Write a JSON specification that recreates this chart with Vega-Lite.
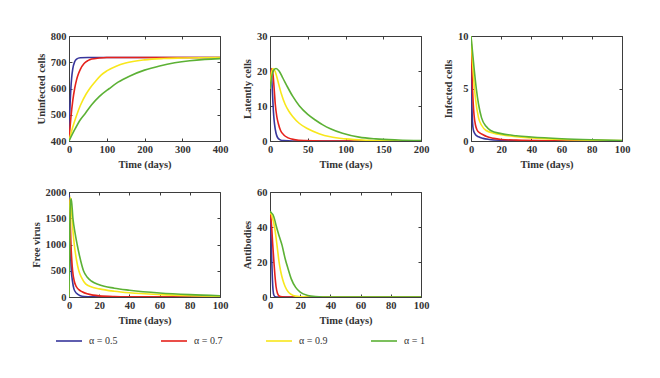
{
  "$schema": "https://vega.github.io/schema/vega-lite/v6.json",
  "padding": {"top": 30, "left": 30, "right": 5, "bottom": 5},
  "background": "white",
  "data": {"values": [
    {"p":"U","a":"0.5","t":0,"v":400},{"p":"U","a":"0.5","t":1,"v":458},{"p":"U","a":"0.5","t":2,"v":505},{"p":"U","a":"0.5","t":3,"v":544},{"p":"U","a":"0.5","t":5,"v":600},{"p":"U","a":"0.5","t":7,"v":640},{"p":"U","a":"0.5","t":10,"v":675},{"p":"U","a":"0.5","t":15,"v":702},{"p":"U","a":"0.5","t":20,"v":712},{"p":"U","a":"0.5","t":30,"v":717},{"p":"U","a":"0.5","t":50,"v":718},{"p":"U","a":"0.5","t":400,"v":718},
    {"p":"U","a":"0.7","t":0,"v":400},{"p":"U","a":"0.7","t":2,"v":439},{"p":"U","a":"0.7","t":5,"v":489},{"p":"U","a":"0.7","t":10,"v":554},{"p":"U","a":"0.7","t":15,"v":600},{"p":"U","a":"0.7","t":20,"v":633},{"p":"U","a":"0.7","t":25,"v":656},{"p":"U","a":"0.7","t":30,"v":673},{"p":"U","a":"0.7","t":40,"v":695},{"p":"U","a":"0.7","t":50,"v":706},{"p":"U","a":"0.7","t":60,"v":712},{"p":"U","a":"0.7","t":80,"v":716},{"p":"U","a":"0.7","t":100,"v":718},{"p":"U","a":"0.7","t":400,"v":718},
    {"p":"U","a":"0.9","t":0,"v":400},{"p":"U","a":"0.9","t":10,"v":453},{"p":"U","a":"0.9","t":20,"v":497},{"p":"U","a":"0.9","t":30,"v":535},{"p":"U","a":"0.9","t":45,"v":578},{"p":"U","a":"0.9","t":55,"v":600},{"p":"U","a":"0.9","t":70,"v":627},{"p":"U","a":"0.9","t":85,"v":651},{"p":"U","a":"0.9","t":100,"v":667},{"p":"U","a":"0.9","t":125,"v":685},{"p":"U","a":"0.9","t":150,"v":697},{"p":"U","a":"0.9","t":200,"v":709},{"p":"U","a":"0.9","t":250,"v":714},{"p":"U","a":"0.9","t":300,"v":716},{"p":"U","a":"0.9","t":400,"v":718},
    {"p":"U","a":"1","t":0,"v":400},{"p":"U","a":"1","t":15,"v":443},{"p":"U","a":"1","t":30,"v":481},{"p":"U","a":"1","t":43,"v":505},{"p":"U","a":"1","t":60,"v":538},{"p":"U","a":"1","t":80,"v":569},{"p":"U","a":"1","t":107,"v":600},{"p":"U","a":"1","t":130,"v":624},{"p":"U","a":"1","t":160,"v":647},{"p":"U","a":"1","t":200,"v":670},{"p":"U","a":"1","t":240,"v":686},{"p":"U","a":"1","t":280,"v":698},{"p":"U","a":"1","t":320,"v":706},{"p":"U","a":"1","t":360,"v":711},{"p":"U","a":"1","t":400,"v":714},

    {"p":"L","a":"0.5","t":0,"v":15},{"p":"L","a":"0.5","t":0.7,"v":19.5},{"p":"L","a":"0.5","t":1.3,"v":20.3},{"p":"L","a":"0.5","t":2,"v":19},{"p":"L","a":"0.5","t":3,"v":15},{"p":"L","a":"0.5","t":4,"v":10.5},{"p":"L","a":"0.5","t":5,"v":7},{"p":"L","a":"0.5","t":6,"v":4.8},{"p":"L","a":"0.5","t":8,"v":2.2},{"p":"L","a":"0.5","t":10,"v":1},{"p":"L","a":"0.5","t":13,"v":0.4},{"p":"L","a":"0.5","t":18,"v":0.1},{"p":"L","a":"0.5","t":30,"v":0},{"p":"L","a":"0.5","t":200,"v":0},
    {"p":"L","a":"0.7","t":0,"v":15},{"p":"L","a":"0.7","t":1,"v":19},{"p":"L","a":"0.7","t":2.5,"v":20.7},{"p":"L","a":"0.7","t":4,"v":19},{"p":"L","a":"0.7","t":5.5,"v":15},{"p":"L","a":"0.7","t":7,"v":10.5},{"p":"L","a":"0.7","t":9,"v":7},{"p":"L","a":"0.7","t":11,"v":5},{"p":"L","a":"0.7","t":14,"v":3},{"p":"L","a":"0.7","t":18,"v":1.8},{"p":"L","a":"0.7","t":24,"v":0.9},{"p":"L","a":"0.7","t":32,"v":0.4},{"p":"L","a":"0.7","t":45,"v":0.1},{"p":"L","a":"0.7","t":70,"v":0},{"p":"L","a":"0.7","t":200,"v":0},
    {"p":"L","a":"0.9","t":0,"v":15},{"p":"L","a":"0.9","t":2,"v":19.5},{"p":"L","a":"0.9","t":4,"v":20.7},{"p":"L","a":"0.9","t":7,"v":19.8},{"p":"L","a":"0.9","t":10,"v":17.5},{"p":"L","a":"0.9","t":15,"v":13.5},{"p":"L","a":"0.9","t":20,"v":10.5},{"p":"L","a":"0.9","t":25,"v":8.5},{"p":"L","a":"0.9","t":30,"v":7},{"p":"L","a":"0.9","t":39,"v":5},{"p":"L","a":"0.9","t":50,"v":3.5},{"p":"L","a":"0.9","t":65,"v":2.1},{"p":"L","a":"0.9","t":80,"v":1.2},{"p":"L","a":"0.9","t":100,"v":0.6},{"p":"L","a":"0.9","t":130,"v":0.2},{"p":"L","a":"0.9","t":160,"v":0.05},{"p":"L","a":"0.9","t":200,"v":0},
    {"p":"L","a":"1","t":0,"v":15},{"p":"L","a":"1","t":2,"v":18},{"p":"L","a":"1","t":5,"v":20.3},{"p":"L","a":"1","t":8,"v":20.7},{"p":"L","a":"1","t":12,"v":20},{"p":"L","a":"1","t":17,"v":18},{"p":"L","a":"1","t":23,"v":15.5},{"p":"L","a":"1","t":30,"v":12.8},{"p":"L","a":"1","t":39,"v":10},{"p":"L","a":"1","t":50,"v":7.6},{"p":"L","a":"1","t":60,"v":6},{"p":"L","a":"1","t":70,"v":4.6},{"p":"L","a":"1","t":80,"v":3.5},{"p":"L","a":"1","t":96,"v":2.2},{"p":"L","a":"1","t":118,"v":1.1},{"p":"L","a":"1","t":140,"v":0.6},{"p":"L","a":"1","t":170,"v":0.3},{"p":"L","a":"1","t":200,"v":0.15},

    {"p":"I","a":"0.5","t":0,"v":10},{"p":"I","a":"0.5","t":0.3,"v":6.5},{"p":"I","a":"0.5","t":0.6,"v":3.5},{"p":"I","a":"0.5","t":1,"v":1.8},{"p":"I","a":"0.5","t":1.5,"v":1.1},{"p":"I","a":"0.5","t":2,"v":0.85},{"p":"I","a":"0.5","t":3,"v":0.6},{"p":"I","a":"0.5","t":5,"v":0.4},{"p":"I","a":"0.5","t":8,"v":0.25},{"p":"I","a":"0.5","t":12,"v":0.15},{"p":"I","a":"0.5","t":20,"v":0.07},{"p":"I","a":"0.5","t":40,"v":0.02},{"p":"I","a":"0.5","t":100,"v":0},
    {"p":"I","a":"0.7","t":0,"v":10},{"p":"I","a":"0.7","t":0.5,"v":7.5},{"p":"I","a":"0.7","t":1,"v":5},{"p":"I","a":"0.7","t":1.5,"v":3.5},{"p":"I","a":"0.7","t":2,"v":2.5},{"p":"I","a":"0.7","t":3,"v":1.5},{"p":"I","a":"0.7","t":4,"v":1.05},{"p":"I","a":"0.7","t":6,"v":0.75},{"p":"I","a":"0.7","t":8,"v":0.6},{"p":"I","a":"0.7","t":10,"v":0.45},{"p":"I","a":"0.7","t":15,"v":0.25},{"p":"I","a":"0.7","t":20,"v":0.15},{"p":"I","a":"0.7","t":30,"v":0.08},{"p":"I","a":"0.7","t":50,"v":0.03},{"p":"I","a":"0.7","t":100,"v":0},
    {"p":"I","a":"0.9","t":0,"v":10},{"p":"I","a":"0.9","t":1,"v":7.5},{"p":"I","a":"0.9","t":2,"v":5.5},{"p":"I","a":"0.9","t":3,"v":4},{"p":"I","a":"0.9","t":5,"v":2.2},{"p":"I","a":"0.9","t":7,"v":1.5},{"p":"I","a":"0.9","t":10,"v":1},{"p":"I","a":"0.9","t":15,"v":0.75},{"p":"I","a":"0.9","t":20,"v":0.6},{"p":"I","a":"0.9","t":30,"v":0.4},{"p":"I","a":"0.9","t":40,"v":0.3},{"p":"I","a":"0.9","t":60,"v":0.15},{"p":"I","a":"0.9","t":80,"v":0.08},{"p":"I","a":"0.9","t":100,"v":0.04},
    {"p":"I","a":"1","t":0,"v":10},{"p":"I","a":"1","t":1,"v":8.5},{"p":"I","a":"1","t":2,"v":7},{"p":"I","a":"1","t":3.5,"v":5},{"p":"I","a":"1","t":5,"v":3.5},{"p":"I","a":"1","t":7,"v":2.2},{"p":"I","a":"1","t":10,"v":1.4},{"p":"I","a":"1","t":13,"v":1},{"p":"I","a":"1","t":20,"v":0.7},{"p":"I","a":"1","t":30,"v":0.5},{"p":"I","a":"1","t":40,"v":0.38},{"p":"I","a":"1","t":60,"v":0.22},{"p":"I","a":"1","t":80,"v":0.12},{"p":"I","a":"1","t":100,"v":0.05},

    {"p":"V","a":"0.5","t":0,"v":0},{"p":"V","a":"0.5","t":0.25,"v":1950},{"p":"V","a":"0.5","t":0.5,"v":1600},{"p":"V","a":"0.5","t":0.8,"v":1100},{"p":"V","a":"0.5","t":1.2,"v":700},{"p":"V","a":"0.5","t":1.6,"v":480},{"p":"V","a":"0.5","t":2.2,"v":320},{"p":"V","a":"0.5","t":3.3,"v":150},{"p":"V","a":"0.5","t":5,"v":70},{"p":"V","a":"0.5","t":7.5,"v":25},{"p":"V","a":"0.5","t":10,"v":10},{"p":"V","a":"0.5","t":15,"v":3},{"p":"V","a":"0.5","t":30,"v":0},{"p":"V","a":"0.5","t":100,"v":0},
    {"p":"V","a":"0.7","t":0,"v":0},{"p":"V","a":"0.7","t":0.4,"v":1850},{"p":"V","a":"0.7","t":0.8,"v":1500},{"p":"V","a":"0.7","t":1.3,"v":1000},{"p":"V","a":"0.7","t":1.8,"v":720},{"p":"V","a":"0.7","t":2.4,"v":500},{"p":"V","a":"0.7","t":3.5,"v":300},{"p":"V","a":"0.7","t":4.8,"v":200},{"p":"V","a":"0.7","t":6.5,"v":140},{"p":"V","a":"0.7","t":8.7,"v":100},{"p":"V","a":"0.7","t":12,"v":60},{"p":"V","a":"0.7","t":16,"v":35},{"p":"V","a":"0.7","t":20,"v":22},{"p":"V","a":"0.7","t":30,"v":10},{"p":"V","a":"0.7","t":50,"v":3},{"p":"V","a":"0.7","t":100,"v":0},
    {"p":"V","a":"0.9","t":0,"v":0},{"p":"V","a":"0.9","t":0.4,"v":1600},{"p":"V","a":"0.9","t":0.8,"v":1900},{"p":"V","a":"0.9","t":1.5,"v":1700},{"p":"V","a":"0.9","t":2.5,"v":1300},{"p":"V","a":"0.9","t":3.5,"v":1000},{"p":"V","a":"0.9","t":5,"v":700},{"p":"V","a":"0.9","t":6.5,"v":500},{"p":"V","a":"0.9","t":8.5,"v":360},{"p":"V","a":"0.9","t":11,"v":250},{"p":"V","a":"0.9","t":15,"v":190},{"p":"V","a":"0.9","t":20,"v":155},{"p":"V","a":"0.9","t":30,"v":110},{"p":"V","a":"0.9","t":40,"v":80},{"p":"V","a":"0.9","t":60,"v":45},{"p":"V","a":"0.9","t":80,"v":25},{"p":"V","a":"0.9","t":100,"v":14},
    {"p":"V","a":"1","t":0,"v":0},{"p":"V","a":"1","t":0.5,"v":1300},{"p":"V","a":"1","t":1,"v":1800},{"p":"V","a":"1","t":1.5,"v":1870},{"p":"V","a":"1","t":2.6,"v":1500},{"p":"V","a":"1","t":4,"v":1220},{"p":"V","a":"1","t":5.4,"v":1000},{"p":"V","a":"1","t":7,"v":780},{"p":"V","a":"1","t":9.6,"v":500},{"p":"V","a":"1","t":12,"v":380},{"p":"V","a":"1","t":15,"v":300},{"p":"V","a":"1","t":20,"v":232},{"p":"V","a":"1","t":30,"v":168},{"p":"V","a":"1","t":40,"v":130},{"p":"V","a":"1","t":60,"v":77},{"p":"V","a":"1","t":80,"v":45},{"p":"V","a":"1","t":100,"v":25},

    {"p":"A","a":"0.5","t":0,"v":48},{"p":"A","a":"0.5","t":0.4,"v":42},{"p":"A","a":"0.5","t":0.8,"v":32},{"p":"A","a":"0.5","t":1.2,"v":20},{"p":"A","a":"0.5","t":1.6,"v":10},{"p":"A","a":"0.5","t":2,"v":4},{"p":"A","a":"0.5","t":2.6,"v":1},{"p":"A","a":"0.5","t":3.5,"v":0.2},{"p":"A","a":"0.5","t":5,"v":0},{"p":"A","a":"0.5","t":100,"v":0},
    {"p":"A","a":"0.7","t":0,"v":48},{"p":"A","a":"0.7","t":0.5,"v":46},{"p":"A","a":"0.7","t":1.1,"v":40},{"p":"A","a":"0.7","t":1.8,"v":30},{"p":"A","a":"0.7","t":2.6,"v":20},{"p":"A","a":"0.7","t":3.3,"v":12},{"p":"A","a":"0.7","t":4,"v":6},{"p":"A","a":"0.7","t":5,"v":2},{"p":"A","a":"0.7","t":6,"v":0.6},{"p":"A","a":"0.7","t":8,"v":0.1},{"p":"A","a":"0.7","t":12,"v":0},{"p":"A","a":"0.7","t":100,"v":0},
    {"p":"A","a":"0.9","t":0,"v":48},{"p":"A","a":"0.9","t":1,"v":47},{"p":"A","a":"0.9","t":2,"v":44},{"p":"A","a":"0.9","t":3,"v":40},{"p":"A","a":"0.9","t":4,"v":34},{"p":"A","a":"0.9","t":5,"v":27},{"p":"A","a":"0.9","t":6,"v":20},{"p":"A","a":"0.9","t":7,"v":15},{"p":"A","a":"0.9","t":8.4,"v":10},{"p":"A","a":"0.9","t":10,"v":6},{"p":"A","a":"0.9","t":12,"v":3},{"p":"A","a":"0.9","t":14,"v":1.5},{"p":"A","a":"0.9","t":17,"v":0.5},{"p":"A","a":"0.9","t":22,"v":0.1},{"p":"A","a":"0.9","t":30,"v":0},{"p":"A","a":"0.9","t":100,"v":0},
    {"p":"A","a":"1","t":0,"v":49},{"p":"A","a":"1","t":1,"v":48},{"p":"A","a":"1","t":2,"v":47},{"p":"A","a":"1","t":3,"v":44.5},{"p":"A","a":"1","t":4,"v":41},{"p":"A","a":"1","t":6,"v":35},{"p":"A","a":"1","t":8,"v":29.5},{"p":"A","a":"1","t":10,"v":22},{"p":"A","a":"1","t":12,"v":16},{"p":"A","a":"1","t":14,"v":10.5},{"p":"A","a":"1","t":17,"v":5.5},{"p":"A","a":"1","t":20,"v":2.8},{"p":"A","a":"1","t":25,"v":0.9},{"p":"A","a":"1","t":30,"v":0.3},{"p":"A","a":"1","t":40,"v":0},{"p":"A","a":"1","t":100,"v":0}
  ]},
  "columns": 3,
  "spacing": {"row": 51, "column": 50},
  "bounds": "flush",
  "concat": [
    {
      "width": 151, "height": 105,
      "transform": [{"filter": "datum.p == 'U'"}],
      "layer": [
        {"mark": {"type": "line", "strokeWidth": 1.6, "interpolate": "monotone", "clip": true},
         "encoding": {
           "x": {"field": "t", "type": "quantitative", "scale": {"domain": [0, 400], "nice": false, "zero": false}, "axis": {"values": [0, 100, 200, 300, 400], "title": "Time (days)"}},
           "y": {"field": "v", "type": "quantitative", "scale": {"domain": [400, 800], "nice": false, "zero": false}, "axis": {"values": [400, 500, 600, 700, 800], "title": "Uninfected cells"}},
           "color": {"field": "a", "type": "nominal", "scale": {"domain": ["0.5", "0.7", "0.9", "1"], "range": ["#38369c", "#e5221c", "#f8e71c", "#5cb135"]}, "legend": {"orient": "none", "legendX": -14, "legendY": 291, "direction": "horizontal", "columns": 4, "labelExpr": "'α = ' + datum.label"}}
         }},
        {"mark": {"type": "line", "strokeOpacity": 0},
         "encoding": {
           "x": {"field": "t", "type": "quantitative", "scale": {"domain": [0, 400], "nice": false, "zero": false}, "axis": {"orient": "top", "values": [0, 100, 200, 300, 400], "labels": false, "title": null}},
           "y": {"field": "v", "type": "quantitative", "scale": {"domain": [400, 800], "nice": false, "zero": false}, "axis": {"orient": "right", "values": [400, 500, 600, 700, 800], "labels": false, "title": null}}
         }}
      ],
      "resolve": {"axis": {"x": "independent", "y": "independent"}}
    },
    {
      "width": 151, "height": 105,
      "transform": [{"filter": "datum.p == 'L'"}],
      "layer": [
        {"mark": {"type": "line", "strokeWidth": 1.6, "interpolate": "monotone", "clip": true},
         "encoding": {
           "x": {"field": "t", "type": "quantitative", "scale": {"domain": [0, 200], "nice": false, "zero": false}, "axis": {"values": [0, 50, 100, 150, 200], "title": "Time (days)"}},
           "y": {"field": "v", "type": "quantitative", "scale": {"domain": [0, 30], "nice": false, "zero": false}, "axis": {"values": [0, 10, 20, 30], "title": "Latently cells"}},
           "color": {"field": "a", "type": "nominal", "scale": {"domain": ["0.5", "0.7", "0.9", "1"], "range": ["#38369c", "#e5221c", "#f8e71c", "#5cb135"]}, "legend": {"orient": "none", "legendX": -14, "legendY": 291, "direction": "horizontal", "columns": 4, "labelExpr": "'α = ' + datum.label"}}
         }},
        {"mark": {"type": "line", "strokeOpacity": 0},
         "encoding": {
           "x": {"field": "t", "type": "quantitative", "scale": {"domain": [0, 200], "nice": false, "zero": false}, "axis": {"orient": "top", "values": [0, 50, 100, 150, 200], "labels": false, "title": null}},
           "y": {"field": "v", "type": "quantitative", "scale": {"domain": [0, 30], "nice": false, "zero": false}, "axis": {"orient": "right", "values": [0, 10, 20, 30], "labels": false, "title": null}}
         }}
      ],
      "resolve": {"axis": {"x": "independent", "y": "independent"}}
    },
    {
      "width": 151, "height": 105,
      "transform": [{"filter": "datum.p == 'I'"}],
      "layer": [
        {"mark": {"type": "line", "strokeWidth": 1.6, "interpolate": "monotone", "clip": true},
         "encoding": {
           "x": {"field": "t", "type": "quantitative", "scale": {"domain": [0, 100], "nice": false, "zero": false}, "axis": {"values": [0, 20, 40, 60, 80, 100], "title": "Time (days)"}},
           "y": {"field": "v", "type": "quantitative", "scale": {"domain": [0, 10], "nice": false, "zero": false}, "axis": {"values": [0, 5, 10], "title": "Infected cells"}},
           "color": {"field": "a", "type": "nominal", "scale": {"domain": ["0.5", "0.7", "0.9", "1"], "range": ["#38369c", "#e5221c", "#f8e71c", "#5cb135"]}, "legend": {"orient": "none", "legendX": -14, "legendY": 291, "direction": "horizontal", "columns": 4, "labelExpr": "'α = ' + datum.label"}}
         }},
        {"mark": {"type": "line", "strokeOpacity": 0},
         "encoding": {
           "x": {"field": "t", "type": "quantitative", "scale": {"domain": [0, 100], "nice": false, "zero": false}, "axis": {"orient": "top", "values": [0, 20, 40, 60, 80, 100], "labels": false, "title": null}},
           "y": {"field": "v", "type": "quantitative", "scale": {"domain": [0, 10], "nice": false, "zero": false}, "axis": {"orient": "right", "values": [0, 5, 10], "labels": false, "title": null}}
         }}
      ],
      "resolve": {"axis": {"x": "independent", "y": "independent"}}
    },
    {
      "width": 151, "height": 105,
      "transform": [{"filter": "datum.p == 'V'"}],
      "layer": [
        {"mark": {"type": "line", "strokeWidth": 1.6, "interpolate": "monotone", "clip": true},
         "encoding": {
           "x": {"field": "t", "type": "quantitative", "scale": {"domain": [0, 100], "nice": false, "zero": false}, "axis": {"values": [0, 20, 40, 60, 80, 100], "title": "Time (days)"}},
           "y": {"field": "v", "type": "quantitative", "scale": {"domain": [0, 2000], "nice": false, "zero": false}, "axis": {"values": [0, 500, 1000, 1500, 2000], "format": "d", "title": "Free virus"}},
           "color": {"field": "a", "type": "nominal", "scale": {"domain": ["0.5", "0.7", "0.9", "1"], "range": ["#38369c", "#e5221c", "#f8e71c", "#5cb135"]}, "legend": {"orient": "none", "legendX": -14, "legendY": 291, "direction": "horizontal", "columns": 4, "labelExpr": "'α = ' + datum.label"}}
         }},
        {"mark": {"type": "line", "strokeOpacity": 0},
         "encoding": {
           "x": {"field": "t", "type": "quantitative", "scale": {"domain": [0, 100], "nice": false, "zero": false}, "axis": {"orient": "top", "values": [0, 20, 40, 60, 80, 100], "labels": false, "title": null}},
           "y": {"field": "v", "type": "quantitative", "scale": {"domain": [0, 2000], "nice": false, "zero": false}, "axis": {"orient": "right", "values": [0, 500, 1000, 1500, 2000], "labels": false, "title": null}}
         }}
      ],
      "resolve": {"axis": {"x": "independent", "y": "independent"}}
    },
    {
      "width": 151, "height": 105,
      "transform": [{"filter": "datum.p == 'A'"}],
      "layer": [
        {"mark": {"type": "line", "strokeWidth": 1.6, "interpolate": "monotone", "clip": true},
         "encoding": {
           "x": {"field": "t", "type": "quantitative", "scale": {"domain": [0, 100], "nice": false, "zero": false}, "axis": {"values": [0, 20, 40, 60, 80, 100], "title": "Time (days)"}},
           "y": {"field": "v", "type": "quantitative", "scale": {"domain": [0, 60], "nice": false, "zero": false}, "axis": {"values": [0, 20, 40, 60], "title": "Antibodies"}},
           "color": {"field": "a", "type": "nominal", "scale": {"domain": ["0.5", "0.7", "0.9", "1"], "range": ["#38369c", "#e5221c", "#f8e71c", "#5cb135"]}, "legend": {"orient": "none", "legendX": -14, "legendY": 291, "direction": "horizontal", "columns": 4, "labelExpr": "'α = ' + datum.label"}}
         }},
        {"mark": {"type": "line", "strokeOpacity": 0},
         "encoding": {
           "x": {"field": "t", "type": "quantitative", "scale": {"domain": [0, 100], "nice": false, "zero": false}, "axis": {"orient": "top", "values": [0, 20, 40, 60, 80, 100], "labels": false, "title": null}},
           "y": {"field": "v", "type": "quantitative", "scale": {"domain": [0, 60], "nice": false, "zero": false}, "axis": {"orient": "right", "values": [0, 20, 40, 60], "labels": false, "title": null}}
         }}
      ],
      "resolve": {"axis": {"x": "independent", "y": "independent"}}
    }
  ],
  "config": {
    "view": {"stroke": "#3d3d3d", "strokeWidth": 1},
    "axis": {
      "domain": false, "grid": false,
      "tickSize": -3, "tickColor": "#3d3d3d", "tickWidth": 1,
      "labelFont": "Liberation Serif", "labelFontWeight": "bold", "labelFontSize": 10.5, "labelColor": "#333333", "labelPadding": 6, "labelFlush": false,
      "titleFont": "Liberation Serif", "titleFontWeight": "bold", "titleFontSize": 10.5, "titleColor": "#333333", "titlePadding": 4
    },
    "axisX": {"titlePadding": 5},
    "legend": {
      "title": null, "symbolType": "stroke", "symbolSize": 676, "symbolStrokeWidth": 1.6,
      "labelFont": "Liberation Serif", "labelFontSize": 10, "labelColor": "#333333", "labelOffset": 6,
      "columnPadding": 39, "gridAlign": "all", "padding": 0
    }
  }
}
